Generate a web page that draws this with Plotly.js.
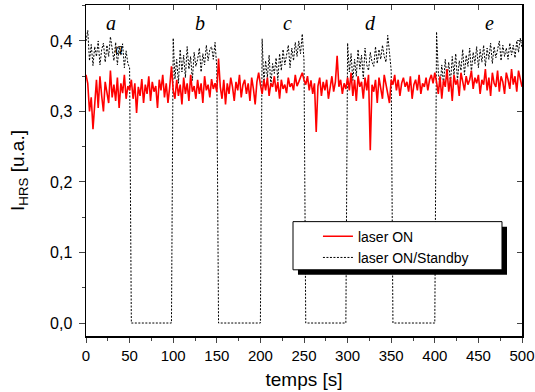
<!DOCTYPE html>
<html>
<head>
<meta charset="utf-8">
<script src="https://cdn.plot.ly/plotly-3.0.1.min.js"></script>
<style>html,body{margin:0;padding:0;background:#fff;}#chart{width:535px;height:392px;}</style>
</head>
<body>
<div id="chart"></div>
<script>
// sampling grid (s)
const T_START = 0;
const T_STEP = 2;

// I_HRS, laser ON (red)
const laserOn = [
0.352,0.340,0.300,0.320,0.275,0.318,0.345,0.305,0.350,0.322,0.300,0.342,0.328,0.312,0.358,0.320,0.338,0.315,0.348,0.305,0.340,0.326,0.352,0.318,0.336,
0.330,0.345,0.318,0.340,0.298,0.335,0.322,0.346,0.312,0.338,0.325,0.350,0.315,0.342,0.328,0.336,0.305,0.345,0.330,0.352,0.320,0.340,0.312,0.335,0.364,
0.330,0.318,0.345,0.322,0.338,0.310,0.348,0.325,0.340,0.315,0.352,0.328,0.336,0.318,0.345,0.325,0.340,0.312,0.350,0.330,0.338,0.320,0.346,0.332,0.340,
0.328,0.375,0.335,0.318,0.345,0.310,0.340,0.325,0.348,0.335,0.315,0.342,0.330,0.352,0.320,0.338,0.345,0.325,0.340,0.315,0.348,0.332,0.310,0.342,0.355,
0.338,0.325,0.345,0.330,0.348,0.322,0.340,0.335,0.350,0.328,0.342,0.318,0.345,0.332,0.338,0.326,0.348,0.335,0.340,0.330,0.352,0.336,0.342,0.348,0.355,
0.345,0.338,0.350,0.330,0.344,0.325,0.340,0.271,0.336,0.348,0.322,0.342,0.330,0.345,0.318,0.338,0.350,0.328,0.342,0.379,0.335,0.345,0.325,0.340,0.332,
0.348,0.330,0.355,0.322,0.345,0.315,0.350,0.335,0.342,0.318,0.348,0.330,0.352,0.245,0.338,0.328,0.345,0.312,0.348,0.335,0.318,0.352,0.340,0.325,0.312,
0.345,0.338,0.352,0.330,0.345,0.322,0.340,0.348,0.335,0.342,0.328,0.350,0.318,0.338,0.345,0.330,0.352,0.325,0.340,0.335,0.348,0.330,0.345,0.352,0.340,
0.355,0.342,0.325,0.350,0.318,0.345,0.335,0.360,0.328,0.348,0.315,0.352,0.338,0.345,0.322,0.355,0.340,0.330,0.350,0.338,0.345,0.358,0.332,0.348,0.340,
0.352,0.325,0.345,0.338,0.360,0.330,0.348,0.322,0.355,0.340,0.335,0.358,0.328,0.350,0.342,0.325,0.355,0.345,0.332,0.360,0.338,0.350,0.328,0.358,0.345,0.335
];

// I_HRS, laser ON/Standby (black dotted)
const laserStandby = [
0.400,0.415,0.372,0.395,0.365,0.392,0.378,0.400,0.366,0.388,0.397,0.370,0.394,0.378,0.406,0.386,0.372,0.398,0.366,0.392,0.380,0.396,0.362,0.386,0.368,0.362,
0,0,0,0,0,0,0,0,0,0,0,0,0,0,0,0,0,0,0,0,0,0,0,0,
0.404,0.346,0.374,0.340,0.388,0.356,0.380,0.348,0.392,0.360,0.378,0.344,0.384,0.364,0.374,0.390,0.356,0.382,0.366,0.394,0.372,0.388,0.392,0.374,0.398,0.362,
0,0,0,0,0,0,0,0,0,0,0,0,0,0,0,0,0,0,0,0,0,0,0,0,0,
0.403,0.340,0.372,0.348,0.380,0.336,0.368,0.354,0.376,0.344,0.382,0.358,0.388,0.366,0.380,0.394,0.362,0.390,0.372,0.398,0.378,0.400,0.382,0.410,0.372,
0,0,0,0,0,0,0,0,0,0,0,0,0,0,0,0,0,0,0,0,0,0,0,0,
0.397,0.356,0.382,0.344,0.374,0.350,0.388,0.360,0.380,0.346,0.390,0.366,0.358,0.384,0.370,0.364,0.392,0.368,0.388,0.374,0.394,0.378,0.370,0.408,0.384,0.358,
0,0,0,0,0,0,0,0,0,0,0,0,0,0,0,0,0,0,0,0,0,0,0,0,0,
0.413,0.356,0.334,0.366,0.338,0.374,0.346,0.370,0.340,0.378,0.352,0.382,0.344,0.372,0.358,0.388,0.352,0.380,0.364,0.390,0.356,0.384,0.368,0.392,0.362,
0.388,0.370,0.394,0.364,0.390,0.374,0.397,0.368,0.392,0.376,0.388,0.400,0.372,0.394,0.378,0.390,0.374,0.397,0.380,0.394,0.376,0.400,0.384,0.404,0.390
];

// phase labels
const phaseLabels = ['a','b','c','d','e'];
const phaseT = [28.7, 130.7, 230.5, 326.8, 462.2];
const phaseY = 0.425;

const xTicks = [0,50,100,150,200,250,300,350,400,450,500];
const yTicks = [0,0.1,0.2,0.3,0.4];

const times = laserOn.map((_, i) => T_START + i * T_STEP);

const FONT = 'Liberation Sans, Arial, sans-serif';

const traces = [
  {x: times, y: laserStandby, type: 'scatter', mode: 'lines', name: 'laser ON/Standby',
   line: {color: '#000', width: 1, dash: '2px,1.5px'}, legendrank: 2},
  {x: times, y: laserOn, type: 'scatter', mode: 'lines', name: 'laser ON',
   line: {color: '#ff0000', width: 1.6}, legendrank: 1},
  {x: [0], y: [0], xaxis: 'x2', yaxis: 'y2', mode: 'markers', marker: {opacity: 0}, showlegend: false, hoverinfo: 'skip'}
];

const annotations = phaseLabels.map((s, i) => ({
  x: phaseT[i], y: phaseY, xref: 'x', yref: 'y', text: '<i>' + s + '</i>', showarrow: false,
  font: {family: 'Liberation Serif, Times New Roman, serif', size: 20, color: '#000'}
}));
annotations.push({x: 37.5, y: 0.39, xref: 'x', yref: 'y', text: '<i>a</i>', showarrow: false,
  font: {family: 'Liberation Serif, Times New Roman, serif', size: 16, color: '#000'}});

const layout = {
  width: 535, height: 392,
  margin: {l: 86, r: 13, t: 5, b: 56, pad: 0},
  paper_bgcolor: '#fff', plot_bgcolor: '#fff',
  separators: ', ',
  font: {family: FONT, size: 15, color: '#000'},
  showlegend: true,
  legend: {x: 0.532, y: 0.3485, xanchor: 'left', yanchor: 'top', bgcolor: 'rgba(0,0,0,0)',
           borderwidth: 0, font: {family: FONT, size: 14, color: '#000'}, tracegroupgap: 0},
  xaxis: {range: [0, 500], tickvals: xTicks, ticktext: xTicks.map(String), ticks: 'outside', ticklen: 5, tickwidth: 1,
          showline: true, linewidth: 1.5, linecolor: '#000', showgrid: false, zeroline: false,
          minor: {dtick: 25, tick0: 0, ticks: 'outside', ticklen: 3, tickwidth: 1, showgrid: false},
          tickfont: {size: 15}, title: {text: 'temps [s]', font: {size: 19}, standoff: 10}},
  yaxis: {range: [-0.0184, 0.451], tickvals: yTicks, tickformat: '.1f', ticks: 'outside', ticklen: 6, tickwidth: 1,
          showline: true, linewidth: 1.5, linecolor: '#000', showgrid: false, zeroline: false,
          minor: {dtick: 0.05, tick0: 0, ticks: 'outside', ticklen: 3, tickwidth: 1, showgrid: false},
          ticklabelstandoff: 3,
          tickfont: {size: 16}, title: {text: 'I<sub>HRS</sub> [u.a.]', font: {size: 19}, standoff: 20}},
  xaxis2: {overlaying: 'x', side: 'top', range: [0, 500], tickvals: xTicks, ticks: 'inside', ticklen: 5,
           showticklabels: false, showline: true, linewidth: 1.5, linecolor: '#000', showgrid: false, zeroline: false},
  yaxis2: {overlaying: 'y', side: 'right', range: [-0.0184, 0.451], tickvals: yTicks, ticks: 'inside', ticklen: 5,
           showticklabels: false, showline: true, linewidth: 1.5, linecolor: '#000', showgrid: false, zeroline: false},
  shapes: [
    {type: 'rect', xref: 'paper', yref: 'paper', x0: 0.4862, x1: 0.9656, y0: 0.1848, y1: 0.3303,
     fillcolor: '#000', line: {width: 0}, layer: 'above'},
    {type: 'rect', xref: 'paper', yref: 'paper', x0: 0.4748, x1: 0.9541, y0: 0.2, y1: 0.3455,
     fillcolor: '#fff', line: {color: '#000', width: 1}, layer: 'above'}
  ],
  annotations: annotations
};

Plotly.newPlot('chart', traces, layout, {staticPlot: true, displayModeBar: false});
</script>
</body>
</html>
